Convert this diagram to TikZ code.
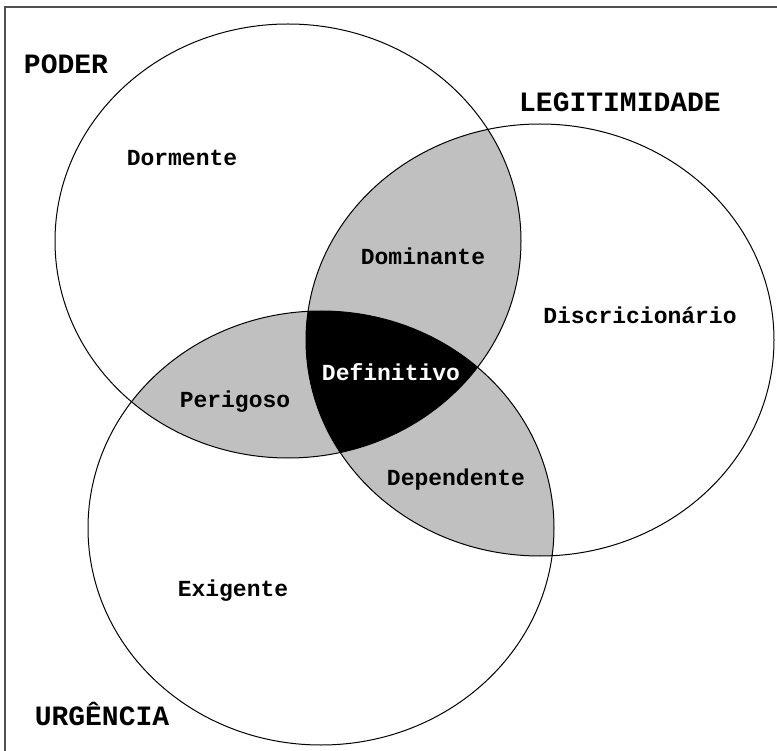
\documentclass[tikz,border=0pt]{standalone}
\usepackage{fontspec}
\setmonofont{Liberation Mono}
\usetikzlibrary{positioning}

\definecolor{lensgray}{RGB}{192,192,192}
\definecolor{framegray}{RGB}{80,80,80}

\tikzset{
  setname/.style={font=\ttfamily\bfseries\fontsize{28}{30}\selectfont, anchor=base},
  kind/.style={font=\ttfamily\bfseries\fontsize{23}{25}\selectfont, anchor=base},
  setline/.style={draw=black, line width=1pt}
}

\newcommand{\poderset}{(288,241) ellipse [x radius=233pt, y radius=217pt]}
\newcommand{\legitset}{(540,340) ellipse [x radius=234pt, y radius=216pt]}
\newcommand{\urgset}{(321,528) ellipse [x radius=233pt, y radius=217pt]}

\begin{document}
\begin{tikzpicture}[x=1pt, y=-1pt]
  \useasboundingbox (0,0) rectangle (777,751);
  \draw[framegray, line width=2pt] (5,751) -- (5,7) -- (777,7);

  % overlaps
  \begin{scope}
    \clip \poderset;
    \fill[lensgray] \legitset;
    \fill[lensgray] \urgset;
  \end{scope}
  \begin{scope}
    \clip \legitset;
    \fill[lensgray] \urgset;
  \end{scope}
  \begin{scope}
    \clip \poderset;
    \clip \legitset;
    \fill[black] \urgset;
  \end{scope}

  \draw[setline] \poderset;
  \draw[setline] \legitset;
  \draw[setline] \urgset;

  \node[setname] (poder) at (66,74) {PODER};
  \node[setname] (legit) at (620,112) {LEGITIMIDADE};
  \node[setname] (urg) at (102,725) {URGÊNCIA};

  \node[kind] (dormente) at (182,166) {Dormente};
  \node[kind] (dominante) at (423,265) {Dominante};
  \node[kind] (discr) at (640,324) {Discricionário};
  \node[kind, text=white] (definitivo) at (391,381) {Definitivo};
  \node[kind] (perigoso) at (235,408) {Perigoso};
  \node[kind] (dependente) at (456,485) {Dependente};
  \node[kind] (exigente) at (233,596) {Exigente};
\end{tikzpicture}
\end{document}
